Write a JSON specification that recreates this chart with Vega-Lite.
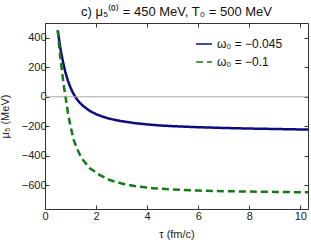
{
  "$schema": "https://vega.github.io/schema/vega-lite/v6.json",
  "width": 263,
  "height": 186,
  "autosize": {"type": "none"},
  "padding": {"left": 45, "top": 23, "right": 3, "bottom": 36},
  "background": "white",
  "config": {
    "font": "Liberation Sans",
    "view": {"stroke": "#333333", "strokeWidth": 1},
    "axis": {"labelFont": "Liberation Sans", "titleFont": "Liberation Sans", "labelColor": "#222222", "titleColor": "#222222", "labelFontSize": 11, "titleFontSize": 11, "titleFontWeight": "normal", "grid": false, "domain": false, "tickColor": "#333333", "labelOverlap": false, "labelFlush": false, "labelBound": false}
  },
  "title": {"text": "c) μ₅⁽⁰⁾ = 450 MeV, T₀ = 500 MeV", "fontSize": 13, "fontWeight": "normal", "font": "Liberation Sans", "color": "#111111", "offset": 4, "anchor": "middle"},
  "datasets": {
    "curves": [
      {"tau": 0.5, "mu": 450, "s": "ω₀ = −0.045"},
      {"tau": 0.55, "mu": 390, "s": "ω₀ = −0.045"},
      {"tau": 0.6, "mu": 330, "s": "ω₀ = −0.045"},
      {"tau": 0.7, "mu": 240, "s": "ω₀ = −0.045"},
      {"tau": 0.8, "mu": 165, "s": "ω₀ = −0.045"},
      {"tau": 0.9, "mu": 108, "s": "ω₀ = −0.045"},
      {"tau": 1.0, "mu": 62, "s": "ω₀ = −0.045"},
      {"tau": 1.1, "mu": 25, "s": "ω₀ = −0.045"},
      {"tau": 1.2, "mu": -5, "s": "ω₀ = −0.045"},
      {"tau": 1.35, "mu": -38, "s": "ω₀ = −0.045"},
      {"tau": 1.5, "mu": -63, "s": "ω₀ = −0.045"},
      {"tau": 1.75, "mu": -95, "s": "ω₀ = −0.045"},
      {"tau": 2.0, "mu": -118, "s": "ω₀ = −0.045"},
      {"tau": 2.25, "mu": -134, "s": "ω₀ = −0.045"},
      {"tau": 2.5, "mu": -147, "s": "ω₀ = −0.045"},
      {"tau": 2.75, "mu": -157, "s": "ω₀ = −0.045"},
      {"tau": 3.0, "mu": -165, "s": "ω₀ = −0.045"},
      {"tau": 3.5, "mu": -178, "s": "ω₀ = −0.045"},
      {"tau": 4.0, "mu": -187, "s": "ω₀ = −0.045"},
      {"tau": 4.5, "mu": -194, "s": "ω₀ = −0.045"},
      {"tau": 5.0, "mu": -199, "s": "ω₀ = −0.045"},
      {"tau": 6.0, "mu": -206, "s": "ω₀ = −0.045"},
      {"tau": 7.0, "mu": -211, "s": "ω₀ = −0.045"},
      {"tau": 8.0, "mu": -215, "s": "ω₀ = −0.045"},
      {"tau": 9.0, "mu": -218, "s": "ω₀ = −0.045"},
      {"tau": 10.3, "mu": -222, "s": "ω₀ = −0.045"},
      {"tau": 0.5, "mu": 450, "s": "ω₀ = −0.1"},
      {"tau": 0.55, "mu": 355, "s": "ω₀ = −0.1"},
      {"tau": 0.6, "mu": 270, "s": "ω₀ = −0.1"},
      {"tau": 0.65, "mu": 195, "s": "ω₀ = −0.1"},
      {"tau": 0.7, "mu": 125, "s": "ω₀ = −0.1"},
      {"tau": 0.75, "mu": 60, "s": "ω₀ = −0.1"},
      {"tau": 0.8, "mu": 5, "s": "ω₀ = −0.1"},
      {"tau": 0.9, "mu": -110, "s": "ω₀ = −0.1"},
      {"tau": 1.0, "mu": -200, "s": "ω₀ = −0.1"},
      {"tau": 1.12, "mu": -290, "s": "ω₀ = −0.1"},
      {"tau": 1.25, "mu": -350, "s": "ω₀ = −0.1"},
      {"tau": 1.44, "mu": -418, "s": "ω₀ = −0.1"},
      {"tau": 1.76, "mu": -485, "s": "ω₀ = −0.1"},
      {"tau": 2.15, "mu": -530, "s": "ω₀ = −0.1"},
      {"tau": 2.53, "mu": -564, "s": "ω₀ = −0.1"},
      {"tau": 3.0, "mu": -587, "s": "ω₀ = −0.1"},
      {"tau": 3.5, "mu": -604, "s": "ω₀ = −0.1"},
      {"tau": 4.25, "mu": -620, "s": "ω₀ = −0.1"},
      {"tau": 5.0, "mu": -628, "s": "ω₀ = −0.1"},
      {"tau": 6.0, "mu": -635, "s": "ω₀ = −0.1"},
      {"tau": 7.0, "mu": -639, "s": "ω₀ = −0.1"},
      {"tau": 8.0, "mu": -642, "s": "ω₀ = −0.1"},
      {"tau": 9.0, "mu": -644, "s": "ω₀ = −0.1"},
      {"tau": 10.3, "mu": -647, "s": "ω₀ = −0.1"}
    ],
    "zero": [{"y": 0}]
  },
  "resolve": {"axis": {"x": "independent", "y": "independent"}},
  "layer": [
    {
      "data": {"name": "curves"},
      "mark": {"type": "line", "strokeWidth": 2.5, "clip": true},
      "encoding": {
        "x": {"field": "tau", "type": "quantitative", "scale": {"domain": [0, 10.3], "nice": false, "zero": false},
          "axis": {"values": [0, 2, 4, 6, 8, 10], "tickSize": -4, "labelPadding": 5, "title": "τ (fm/c)", "titlePadding": 7}},
        "y": {"field": "mu", "type": "quantitative", "scale": {"domain": [-760, 500], "nice": false, "zero": false},
          "axis": {"values": [-600, -400, -200, 0, 200, 400], "tickSize": -4, "labelPadding": 3, "title": "μ₅ (MeV)", "titlePadding": 11}},
        "color": {"field": "s", "type": "nominal", "sort": ["ω₀ = −0.045", "ω₀ = −0.1"],
          "scale": {"domain": ["ω₀ = −0.045", "ω₀ = −0.1"], "range": ["#0c0c80", "#137a13"]},
          "legend": {"title": null, "orient": "none", "legendX": 150, "legendY": 12, "symbolType": "stroke", "symbolSize": 250, "symbolStrokeWidth": 1.5, "labelFontSize": 12, "labelFont": "Liberation Sans", "labelColor": "#111111", "rowPadding": 3}},
        "strokeDash": {"field": "s", "type": "nominal", "sort": ["ω₀ = −0.045", "ω₀ = −0.1"],
          "scale": {"domain": ["ω₀ = −0.045", "ω₀ = −0.1"], "range": [[1, 0], [7, 4]]},
          "legend": {"title": null, "orient": "none", "legendX": 150, "legendY": 12, "symbolType": "stroke", "symbolSize": 250, "symbolStrokeWidth": 1.5, "labelFontSize": 12, "labelFont": "Liberation Sans", "labelColor": "#111111", "rowPadding": 3}}
      }
    },
    {
      "data": {"name": "zero"},
      "mark": {"type": "rule", "color": "#aaaaaa", "strokeWidth": 1},
      "encoding": {"y": {"field": "y", "type": "quantitative", "axis": {"orient": "right", "values": [-600, -400, -200, 0, 200, 400], "tickSize": -4, "labels": false, "title": null}}}
    },
    {
      "data": {"name": "curves"},
      "mark": {"type": "line", "opacity": 0},
      "encoding": {
        "x": {"field": "tau", "type": "quantitative", "axis": {"orient": "top", "values": [0, 2, 4, 6, 8, 10], "tickSize": -4, "labels": false, "title": null}},
        "y": {"field": "mu", "type": "quantitative", "axis": null},
        "detail": {"field": "s"}
      }
    }
  ]
}
